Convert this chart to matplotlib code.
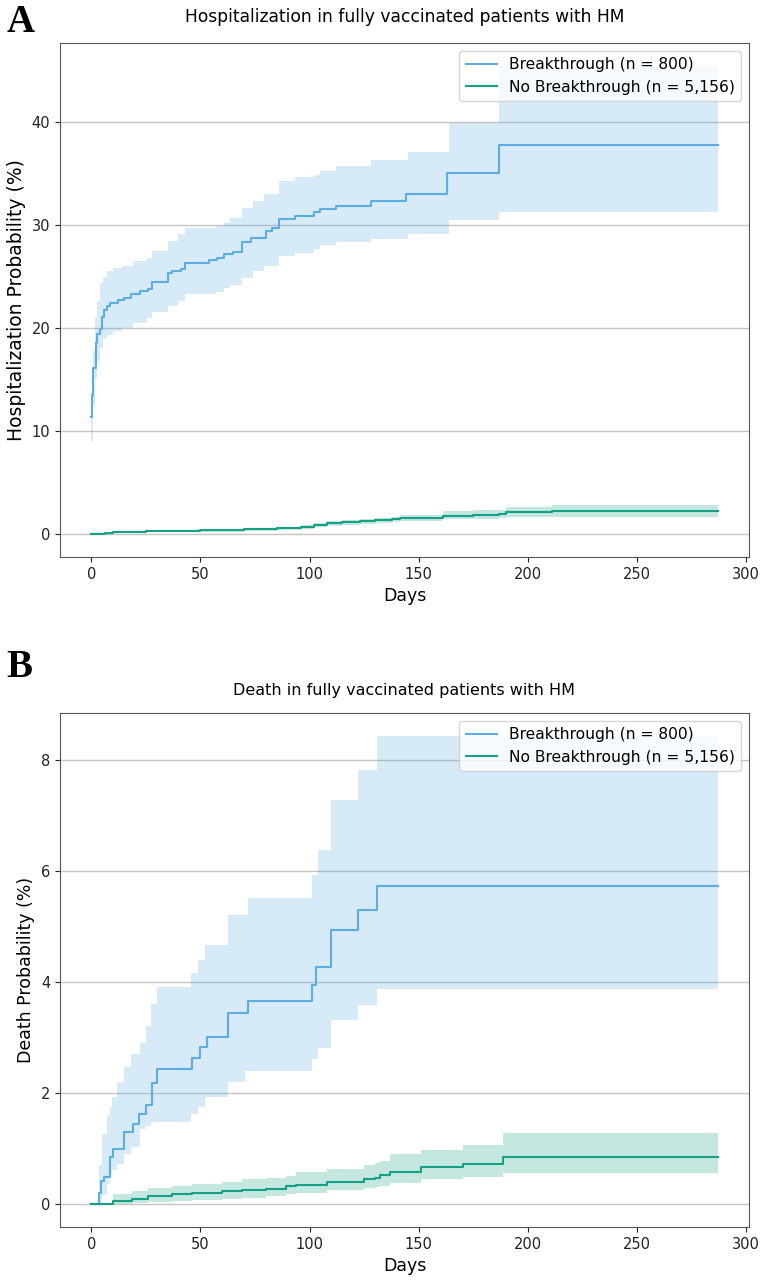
import matplotlib
matplotlib.use("Agg")
import matplotlib.pyplot as plt

# Kaplan-Meier style cumulative probabilities (%)
hosp_bt_days = [0, 0.5, 1, 2, 2.6, 4, 5, 5.6, 7, 8.7, 12.4, 15, 18, 22.4, 26, 28, 35, 37, 41, 43,
                54, 57.5, 60.6, 65, 69, 73, 80, 83, 86, 93.5, 102, 105, 112, 128, 144, 163, 187, 287]
hosp_bt_est = [11.3, 13.5, 16.1, 18.5, 19.4, 19.9, 21.0, 21.7, 22.1, 22.4, 22.7, 22.9, 23.3, 23.6, 23.8, 24.4,
               25.3, 25.5, 25.7, 26.3, 26.6, 26.8, 27.2, 27.4, 28.3, 28.7, 29.4, 29.7, 30.6, 30.9, 31.2, 31.5,
               31.8, 32.3, 33.0, 35.0, 37.8, 37.8]
hosp_bt_ci_days = [0, 1, 1.8, 2.6, 4, 5.5, 7, 10, 14, 19, 25.6, 28, 35, 39.5, 43, 57, 60.6, 63.7, 69, 74,
                   79, 86, 93.5, 102, 105, 112, 128, 145, 164, 187, 287]
hosp_bt_lo = [9.0, 12.5, 15.0, 16.8, 18.0, 19.0, 19.3, 19.7, 20.0, 20.5, 20.9, 21.5, 22.1, 22.6, 23.3, 23.5,
              23.9, 24.2, 24.8, 25.5, 26.0, 27.0, 27.3, 27.7, 28.0, 28.3, 28.6, 29.1, 30.5, 31.2, 31.2]
hosp_bt_hi = [13.0, 17.8, 21.0, 22.6, 24.3, 24.9, 25.5, 25.8, 26.0, 26.5, 26.8, 27.5, 28.4, 29.1, 29.7, 29.9,
              30.2, 30.7, 31.6, 32.3, 33.0, 34.3, 34.6, 34.8, 35.2, 35.7, 36.3, 37.1, 39.9, 45.4, 45.4]

hosp_nb_days = [0, 6.4, 10, 14, 25, 31.6, 50, 70, 85, 96, 102, 108, 115, 123, 130, 138, 141.5, 150,
                161, 175, 187, 190, 211, 287]
hosp_nb_est = [0, 0.05, 0.12, 0.2, 0.23, 0.25, 0.32, 0.4, 0.5, 0.65, 0.8, 1.0, 1.1, 1.2, 1.3, 1.4, 1.5,
               1.55, 1.75, 1.85, 1.9, 2.07, 2.23, 2.23]
hosp_nb_lo = [0, 0.0, 0.05, 0.1, 0.12, 0.14, 0.2, 0.27, 0.35, 0.48, 0.6, 0.78, 0.88, 0.96, 1.05, 1.14,
              1.23, 1.27, 1.38, 1.45, 1.5, 1.6, 1.6, 1.6]
hosp_nb_hi = [0, 0.1, 0.2, 0.3, 0.34, 0.36, 0.45, 0.53, 0.65, 0.82, 1.0, 1.22, 1.33, 1.44, 1.55, 1.66,
              1.78, 1.84, 2.15, 2.25, 2.3, 2.6, 2.82, 2.82]

death_bt_days = [0, 3.5, 4.5, 6, 8.7, 10, 14.8, 19, 22, 25, 28, 30, 46, 50, 53, 62.5, 72, 101, 103,
                 110, 122, 131, 287]
death_bt_est = [0, 0.2, 0.41, 0.48, 0.84, 0.99, 1.29, 1.44, 1.61, 1.77, 2.17, 2.42, 2.62, 2.82, 3.0,
                3.43, 3.66, 3.94, 4.27, 4.93, 5.29, 5.73, 5.73]
death_bt_ci_days = [0, 3.5, 4.9, 7, 8.7, 9.5, 11.7, 14.8, 18, 22.5, 25, 27.5, 30, 45.5, 49, 52, 62.5,
                    70.5, 72, 101, 103.7, 110, 122, 131, 287]
death_bt_lo = [0, 0.0, 0.15, 0.35, 0.54, 0.6, 0.72, 0.9, 1.02, 1.35, 1.4, 1.47, 1.47, 1.62, 1.75, 1.93,
               2.2, 2.4, 2.4, 2.6, 2.8, 3.31, 3.58, 3.87, 3.87]
death_bt_hi = [0, 0.7, 1.26, 1.6, 1.75, 1.92, 2.2, 2.46, 2.7, 2.89, 3.2, 3.6, 3.91, 4.15, 4.39, 4.66,
               5.2, 5.2, 5.51, 5.93, 6.38, 7.28, 7.81, 8.42, 8.42]

death_nb_days = [0, 10, 18.6, 26, 37, 46, 60, 69, 80, 89, 94, 108, 125, 130, 132.5, 137, 151, 170.5,
                 188.7, 287]
death_nb_est = [0, 0.05, 0.09, 0.13, 0.17, 0.2, 0.22, 0.25, 0.27, 0.31, 0.34, 0.4, 0.44, 0.47, 0.52,
                0.58, 0.66, 0.72, 0.85, 0.85]
death_nb_lo = [0, 0.0, 0.01, 0.03, 0.05, 0.07, 0.09, 0.11, 0.14, 0.18, 0.2, 0.24, 0.28, 0.3, 0.32,
               0.38, 0.45, 0.49, 0.56, 0.56]
death_nb_hi = [0, 0.18, 0.22, 0.28, 0.32, 0.36, 0.4, 0.44, 0.47, 0.5, 0.57, 0.63, 0.69, 0.74, 0.77,
               0.89, 0.97, 1.05, 1.27, 1.27]

labels = ["Breakthrough (n = 800)", "No Breakthrough (n = 5,156)"]
blue = "#5DADE2"
green = "#16A085"

panels = [
    ("A", "Hospitalization in fully vaccinated patients with HM", "Hospitalization Probability (%)",
     (hosp_bt_days, hosp_bt_est, hosp_bt_ci_days, hosp_bt_lo, hosp_bt_hi),
     (hosp_nb_days, hosp_nb_est, hosp_nb_days, hosp_nb_lo, hosp_nb_hi)),
    ("B", "Death in fully vaccinated patients with HM", "Death Probability (%)",
     (death_bt_days, death_bt_est, death_bt_ci_days, death_bt_lo, death_bt_hi),
     (death_nb_days, death_nb_est, death_nb_days, death_nb_lo, death_nb_hi)),
]

fig = plt.figure(figsize=(7.67, 12.83), dpi=100)
axes_boxes = [[0.0782, 0.5659, 0.8983, 0.4006], [0.0782, 0.0436, 0.8983, 0.4006]]
letter_y = [0.997, 0.494]
title_size = [12.3, 11.5]
title_pad = [15, 13]
ylabel_size = [13.5, 12.5]

for i, (letter, title, ylabel, bt, nb) in enumerate(panels):
    ax = fig.add_axes(axes_boxes[i])
    for series, color, lab in [(bt, blue, labels[0]), (nb, green, labels[1])]:
        days, est, ci_days, lo, hi = series
        ax.fill_between(ci_days, lo, hi, step="post", color=color, alpha=0.25, linewidth=0)
        ax.plot(days, est, drawstyle="steps-post", color=color, lw=1.5, label=lab)

    ax.set_title(title, fontsize=title_size[i], pad=title_pad[i])
    ax.set_ylabel(ylabel, fontsize=ylabel_size[i])
    ax.set_xlabel("Days", fontsize=12.5)
    ax.set_xticks([0, 50, 100, 150, 200, 250, 300])
    ax.tick_params(labelsize=10.5, colors="#222222")
    ax.grid(axis="y", color="#c4c4c4", lw=1)
    ax.set_axisbelow(True)
    for s in ax.spines.values():
        s.set_color("#555555")
    ax.legend(loc="upper right", fontsize=11.2)

    fig.text(0.008, letter_y[i], letter, family="Liberation Serif", weight="bold",
             fontsize=28, va="top", ha="left")

plt.savefig("out.png", dpi=100)
